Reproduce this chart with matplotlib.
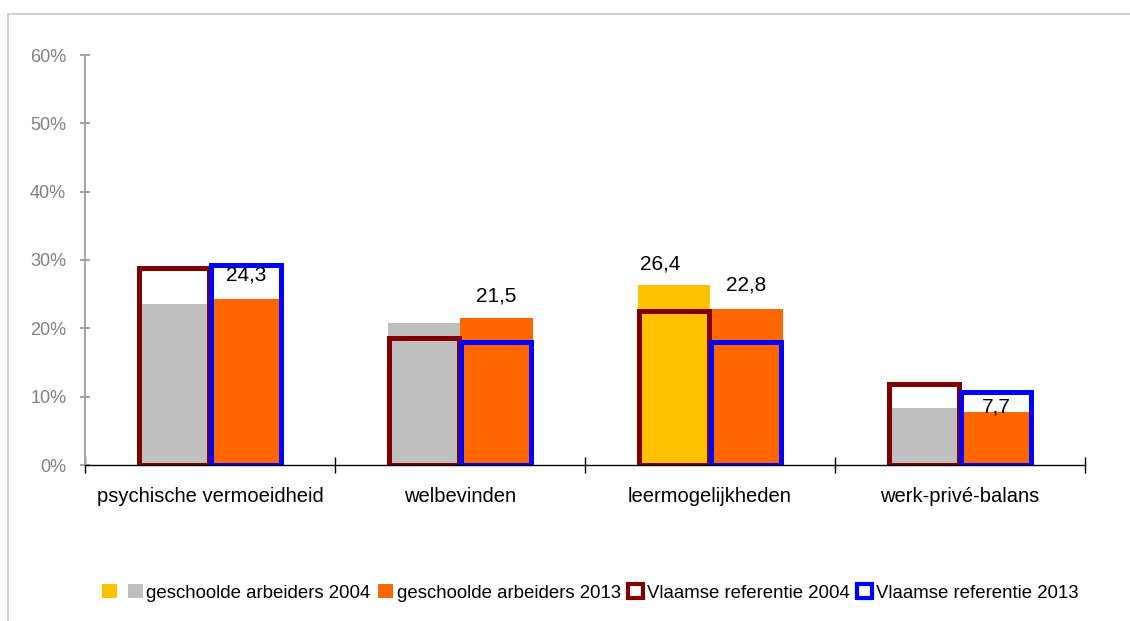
import matplotlib
matplotlib.use("Agg")
import matplotlib.pyplot as plt
from matplotlib import font_manager
from matplotlib.patches import Rectangle, Patch
import numpy as np

categories = ["psychische vermoeidheid", "welbevinden", "leermogelijkheden", "werk-privé-balans"]
arbeiders_2004 = [23.5, 20.8, 26.4, 8.3]
arbeiders_2013 = [24.3, 21.5, 22.8, 7.7]
ref_2004 = [28.8, 18.6, 22.5, 11.8]
ref_2013 = [29.3, 18.0, 18.0, 10.7]
colors_2004 = ["#BFBFBF", "#BFBFBF", "#FFC000", "#BFBFBF"]
yticks = [0, 10, 20, 30, 40, 50, 60]
ytick_labels = ["0%", "10%", "20%", "30%", "40%", "50%", "60%"]
labels_2013 = ["24,3", "21,5", "22,8", "7,7"]
label_2004 = (2, "26,4")
legend_labels = ["geschoolde arbeiders 2004", "geschoolde arbeiders 2013",
                 "Vlaamse referentie 2004", "Vlaamse referentie 2013"]

names = {f.name for f in font_manager.fontManager.ttflist}
font = "Liberation Sans Narrow" if "Liberation Sans Narrow" in names else "Liberation Sans"
plt.rcParams["font.family"] = [font, "DejaVu Sans"]

fig = plt.figure(figsize=(11.30, 6.21), dpi=100)
fig.patches.append(Rectangle((8 / 1130, -0.1), 1.2, 1 - 14 / 621 + 0.1,
                             transform=fig.transFigure, fill=False,
                             edgecolor="#C8C8C8", linewidth=1.2))
ax = fig.add_axes([85 / 1130, 1 - 465 / 621, 1000 / 1130, 410 / 621])

x = np.arange(len(categories))
w = 0.29
xl = x - w / 2
xr = x + w / 2

ax.bar(xl, arbeiders_2004, w, color=colors_2004, zorder=2)
ax.bar(xr, arbeiders_2013, w, color="#FF6600", zorder=2)
ax.bar(xl, ref_2004, w * 0.96, fill=False, edgecolor="#800000", linewidth=3.6, zorder=3)
ax.bar(xr, ref_2013, w * 0.96, fill=False, edgecolor="#0000FF", linewidth=3.6, zorder=4)

offsets_2013 = [3.5, 3.2, 3.6, 0.8]
for i, t in enumerate(labels_2013):
    ax.text(xr[i], arbeiders_2013[i] + offsets_2013[i], t, ha="center", va="center",
            fontsize=15, color="black", zorder=5)
i, t = label_2004
ax.text(xl[i] - 0.055, arbeiders_2004[i] + 3.0, t, ha="center", va="center",
        fontsize=15, color="black", zorder=5)

ax.set_xlim(-0.5, len(categories) - 0.5)
ax.set_ylim(0, 60)
ax.set_yticks(yticks)
ax.set_yticklabels(ytick_labels, color="#808080", fontsize=13)
ax.set_xticks(np.arange(len(categories) + 1) - 0.5)
ax.set_xticklabels([])
ax.set_xticks(x, minor=True)
ax.set_xticklabels(categories, minor=True, fontsize=14.5)
ax.tick_params(axis="x", which="minor", length=0, pad=16)
ax.tick_params(axis="x", which="major", direction="inout", length=11, color="black", width=1)
ax.tick_params(axis="y", direction="inout", length=7, color="#A6A6A6", width=1.5, pad=10)
for s in ["top", "right"]:
    ax.spines[s].set_visible(False)
ax.spines["left"].set_color("#A6A6A6")
ax.spines["left"].set_linewidth(1.5)
ax.spines["bottom"].set_color("black")
ax.spines["bottom"].set_linewidth(1)
ax.spines["bottom"].set_zorder(6)

handles = [
    Patch(facecolor="#FFC000", edgecolor="none"),
    Patch(facecolor="#BFBFBF", edgecolor="none"),
    Patch(facecolor="#FF6600", edgecolor="none"),
    Patch(facecolor="white", edgecolor="#800000", linewidth=3),
    Patch(facecolor="white", edgecolor="#0000FF", linewidth=3),
]
leg = fig.legend(handles, [""] + legend_labels, loc="center", ncol=5,
                 bbox_to_anchor=(590 / 1130, 1 - 593 / 621), frameon=False,
                 fontsize=13.4, handlelength=0.8, handleheight=0.8,
                 handletextpad=0.2, columnspacing=0.4)

fig.savefig("out.png", dpi=100)
